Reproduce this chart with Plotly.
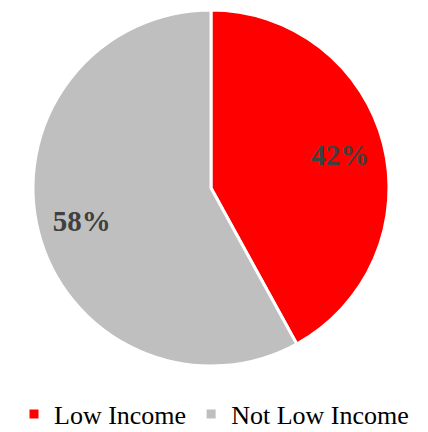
import plotly.graph_objects as go

categories = ["Low Income", "Not Low Income"]
values = [42, 58]
colors = ["#FF0000", "#BFBFBF"]

W, H = 428, 432
dom_x = [33 / W, 389 / W]
dom_y = [1 - 366 / H, 1 - 10 / H]

serif = "Liberation Serif, DejaVu Serif, serif"

# Filled pie (colors, legend)
pie_fill = go.Pie(
    labels=categories,
    values=values,
    sort=False,
    direction="clockwise",
    rotation=0,
    domain=dict(x=dom_x, y=dom_y),
    marker=dict(colors=colors, line=dict(color="white", width=3)),
    textinfo="none",
    hoverinfo="label+percent",
)

# Transparent ring carrying the percentage labels further out
pie_text = go.Pie(
    labels=categories,
    values=values,
    sort=False,
    direction="clockwise",
    rotation=0,
    hole=0.5,
    domain=dict(x=dom_x, y=dom_y),
    marker=dict(colors=["rgba(0,0,0,0)"] * 2, line=dict(width=0)),
    texttemplate="%{percent:.0%}",
    textposition="inside",
    insidetextorientation="horizontal",
    textfont=dict(family=serif, size=29, color="#404040", weight="bold"),
    showlegend=False,
    hoverinfo="skip",
)

fig = go.Figure([pie_fill, pie_text])

fig.update_layout(
    width=W, height=H,
    margin=dict(l=0, r=0, t=0, b=0, autoexpand=False),
    paper_bgcolor="white",
    plot_bgcolor="white",
    showlegend=True,
    legend=dict(
        orientation="h",
        x=0.5, xanchor="center",
        y=1 - 414 / H, yanchor="middle",
        font=dict(family=serif, size=26, color="#000000"),
        itemwidth=30,
        traceorder="normal",
    ),
)

fig.write_html(
    "out.html",
    config={"displayModeBar": False},
    post_script="document.body.style.margin='0';document.body.style.overflow='hidden';",
)
